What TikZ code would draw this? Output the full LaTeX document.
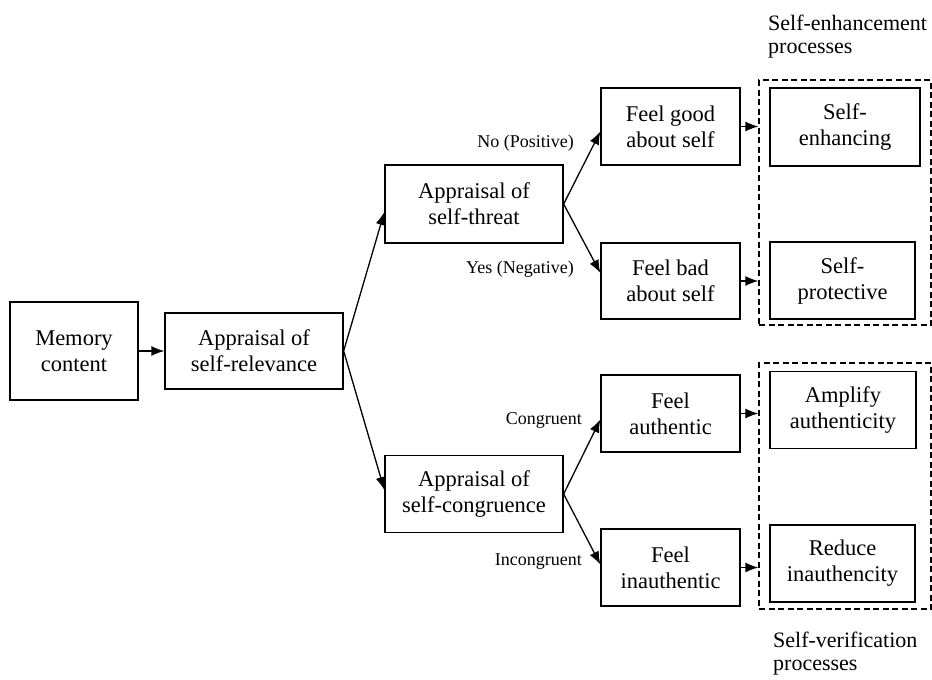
\documentclass[tikz,border=0pt]{standalone}
\usepackage{fontspec}
\setmainfont{Liberation Serif}
\usetikzlibrary{arrows.meta,calc}
\begin{document}
\begin{tikzpicture}[x=1pt,y=-1pt,
 box/.style={draw,line width=1.3pt,align=center,inner sep=0pt,font=\fontsize{22.5}{26}\selectfont},
 grp/.style={draw,dash pattern=on 6pt off 3.5pt,line width=1.3pt,inner sep=0pt},
 arr/.style={line width=1.3pt,-{Latex[length=13pt,width=10pt]}},
 lbl/.style={font=\fontsize{18}{22}\selectfont,anchor=east,inner sep=0pt},
 ttl/.style={font=\fontsize{22}{23}\selectfont,align=left,anchor=base west,inner sep=0pt}]
\useasboundingbox (0,0) rectangle (932,680);

\node[box,minimum width=128pt,minimum height=98pt] (mem) at (74,351) {Memory\\content};
\node[box,minimum width=178pt,minimum height=76pt] (rel) at (254,351) {Appraisal of\\self-relevance};
\node[box,minimum width=178pt,minimum height=78pt] (thr) at (474,204) {Appraisal of\\self-threat};
\node[box,minimum width=178pt,minimum height=77pt] (con) at (474,494) {Appraisal of\\self-congruence};

\node[box,minimum width=139pt,minimum height=77pt] (good) at (670.5,126.5) {Feel good\\about self};
\node[box,minimum width=139pt,minimum height=76pt] (bad) at (670.5,281) {Feel bad\\about self};
\node[box,minimum width=139pt,minimum height=77pt] (auth) at (670.5,413.5) {Feel\\authentic};
\node[box,minimum width=139pt,minimum height=77pt] (inauth) at (670.5,567.5) {Feel\\inauthentic};

\node[grp,minimum width=172pt,minimum height=245pt] (g1) at (845,202.5) {};
\node[grp,minimum width=172pt,minimum height=246pt] (g2) at (845,486) {};

\node[box,minimum width=150pt,minimum height=78pt] (enh) at (845,127) {Self-\\enhancing};
\node[box,minimum width=145pt,minimum height=77pt] (prot) at (842.5,280.5) {Self-\\protective};
\node[box,minimum width=146pt,minimum height=77pt] (amp) at (843,410) {Amplify\\authenticity};
\node[box,minimum width=145pt,minimum height=77pt] (red) at (842.5,563.5) {Reduce\\inauthencity};

\node[lbl] (lno) at (574,143) {No (Positive)};
\node[lbl] (lyes) at (574,269) {Yes (Negative)};
\node[lbl] (lcon) at (582,420) {Congruent};
\node[lbl] (linc) at (582,562) {Incongruent};

\node[ttl] (t1) at (768,53) {Self-enhancement\\processes};
\node[ttl] (t2) at (773,670) {Self-verification\\processes};

\draw[arr] (mem) -- (rel);
\draw[arr] (rel.east) -- ($(thr.west)+(0,8)$);
\draw[arr] (rel.east) -- ($(con.west)+(0,-4)$);
\draw[arr] (thr.east) -- ($(good.west)+(0,5)$);
\draw[arr] (thr.east) -- ($(bad.west)+(0,-8)$);
\draw[arr] (con.east) -- ($(auth.west)+(0,6)$);
\draw[arr] (con.east) -- ($(inauth.west)+(0,-3)$);
\draw[arr] (good.east) -- (good.east -| g1.west);
\draw[arr] (bad.east) -- (bad.east -| g1.west);
\draw[arr] (auth.east) -- (auth.east -| g2.west);
\draw[arr] (inauth.east) -- (inauth.east -| g2.west);
\end{tikzpicture}
\end{document}
